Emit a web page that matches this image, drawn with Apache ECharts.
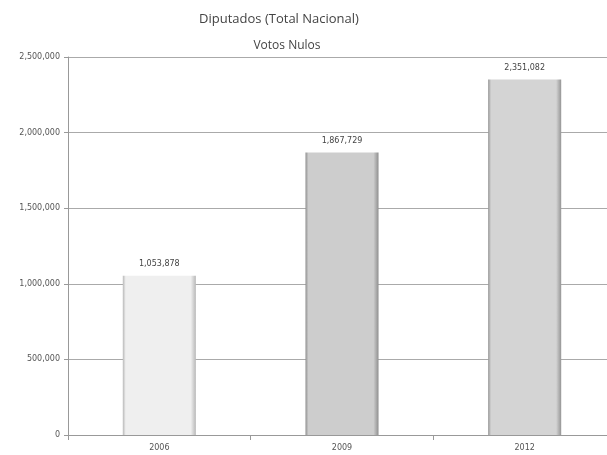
<!DOCTYPE html>
<html><head><meta charset="utf-8">
<script src="https://cdn.jsdelivr.net/npm/echarts@6/dist/echarts.min.js"></script>
<style>html,body{margin:0;padding:0;background:#fff;overflow:hidden}#c{width:616px;height:455px}</style>
</head><body><div id="c"></div>
<script>
var categories = ['2006', '2009', '2012'];
var values = [1053878, 1867729, 2351082];
var valueLabels = ['1,053,878', '1,867,729', '2,351,082'];
var titleLines = ['Diputados (Total Nacional)', 'Votos Nulos'];

function grad(mid, edge) {
  return new echarts.graphic.LinearGradient(0, 0, 1, 0, [
    {offset: 0, color: edge}, {offset: 0.04, color: mid},
    {offset: 0.93, color: mid}, {offset: 1, color: edge}
  ]);
}
var colors = [grad('#efefef', '#b8b8b8'), grad('#cdcdcd', '#8f8f8f'), grad('#d4d4d4', '#959595')];
var tStyle = {fontFamily: 'Open Sans', fontSize: 13, fontWeight: 'normal', color: '#444'};
var tStyle2 = {fontFamily: 'Open Sans', fontSize: 12, fontWeight: 'normal', color: '#444'};

var chart = echarts.init(document.getElementById('c'));
chart.setOption({
  animation: false,
  title: [
    {text: titleLines[0], left: 279, textAlign: 'center', top: 13, padding: 0, textStyle: tStyle},
    {text: titleLines[1], left: 287, textAlign: 'center', top: 40, padding: 0, textStyle: tStyle2}
  ],
  grid: {left: 68, right: 0, top: 57, bottom: 20},
  xAxis: {
    type: 'category', data: categories,
    axisLine: {lineStyle: {color: '#999'}},
    axisTick: {show: true, alignWithLabel: false, lineStyle: {color: '#999'}},
    axisLabel: {fontSize: 8, color: '#555', margin: 9, fontFamily: 'DejaVu Sans'}
  },
  yAxis: {
    type: 'value', min: 0, max: 2500000, interval: 500000,
    axisLine: {show: true, lineStyle: {color: '#999'}},
    axisTick: {show: true, length: 4, lineStyle: {color: '#999'}},
    splitLine: {lineStyle: {color: '#aaa', width: 1}},
    axisLabel: {fontSize: 8, color: '#555', margin: 8, fontFamily: 'DejaVu Sans',
      formatter: function (v) { return v.toLocaleString('en-US'); }}
  },
  series: [{
    type: 'bar', barWidth: '40%',
    data: values.map(function (v, i) {
      return {value: v, itemStyle: {color: colors[i]},
        label: {show: true, position: 'top', distance: 8, fontSize: 8, color: '#444',
          fontFamily: 'DejaVu Sans', formatter: valueLabels[i]}};
    })
  }]
});
</script></body></html>
